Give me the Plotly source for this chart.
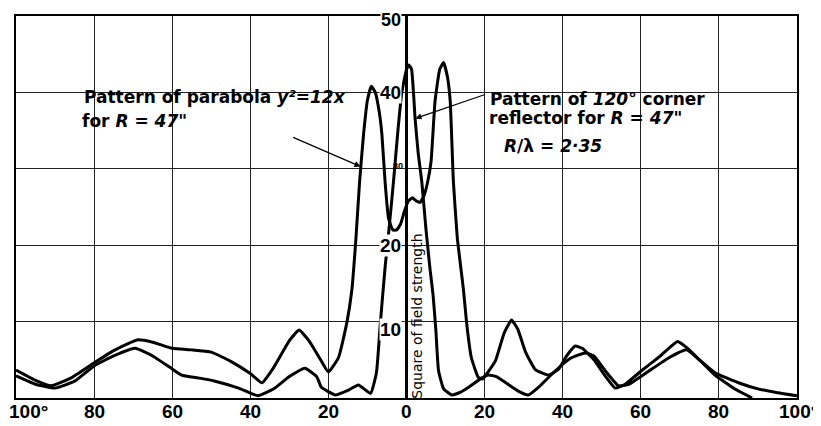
import plotly.graph_objects as go

# Angle from axis [deg] and square of field strength
par_x = [-100, -95, -91, -86, -80, -75, -69, -65, -60, -55, -50, -45, -40, -37, -34, -30,
         -27.5, -25, -22, -20, -17.4, -15.3, -14, -13, -12, -11, -10, -9, -8, -7, -6.3,
         -5.5, -4.6, -3.5, -2.5, -1.5, -0.5, 0.5, 1.5, 2.5, 3.5, 4.5, 5.5, 6.3, 7.3, 8.5,
         9.5, 10.5, 11.2, 12, 13, 14.6, 15.4, 16.6, 18.4, 19.5, 21, 22.8, 25, 26.9, 28.5,
         30.5, 33, 36.4, 39, 41, 43.2, 45, 48, 51, 53.4, 56, 60, 65, 69.4, 72, 76, 79, 84, 88.5]
par_y = [3.65, 2.3, 1.6, 2.6, 4.6, 6.2, 7.6, 7.3, 6.5, 6.3, 6.0, 4.8, 3.2, 2.0, 4.0, 7.5,
         8.9, 7.5, 5.0, 3.4, 5.3, 9.8, 14.1, 20.5, 28.4, 34.5, 39.0, 40.8, 40.0, 37.5, 34.5,
         28.4, 23.5, 22.0, 22.0, 22.8, 24.5, 25.8, 26.2, 25.8, 25.6, 26.5, 28.5, 31.0, 38.8, 43.0,
         43.9, 42.0, 38.8, 28.4, 21.0, 14.1, 9.8, 5.3, 2.7, 2.5, 3.5, 4.9, 8.5, 10.2, 9.0,
         6.0, 3.7, 3.0, 3.8, 5.5, 6.8, 6.5, 5.0, 2.8, 1.3, 1.8, 3.5, 5.5, 7.4, 6.5, 4.5, 3.0, 1.2, 0.0]

cor_x = [-100, -95, -90, -85, -80, -75, -69.5, -65, -60, -57.6, -53, -49, -43, -38, -34, -30,
         -26, -23, -21.8, -18.2, -15, -12.3, -9.2, -7.7, -6.7, -5.5, -4.5, -3.3, -2.2, -1.2,
         0, 0.6, 1.3, 2.2, 3, 3.9, 5, 6, 6.8, 7.5, 8.2, 9.5, 11.6, 14, 15.9, 19.2, 21, 23,
         26, 29, 31.2, 34, 38, 42, 45.8, 48, 51, 54.3, 57, 62, 67, 71.7, 75, 79, 85, 90, 95, 100]
cor_y = [2.9, 1.8, 1.3, 2.2, 4.2, 5.5, 6.5, 5.5, 3.8, 3.0, 2.6, 2.2, 1.3, 0.3, 1.2, 2.8,
         3.9, 2.8, 1.4, 0.4, 1.0, 1.7, 0.6, 3.3, 9.8, 17.0, 22.0, 28.5, 35.0, 40.0,
         43.0, 43.6, 43.0, 36.6, 32.0, 28.4, 22.0, 17.0, 13.5, 9.0, 3.6, 1.2, 0.4, 0.8, 1.4, 2.6, 3.0, 2.8,
         1.8, 0.8, 0.4, 1.5, 3.5, 5.2, 5.9, 5.5, 3.5, 1.6, 1.8, 3.5, 5.2, 6.3, 5.0, 3.3, 2.0, 1.2, 0.7, 0.3]

x_ticks = [-100, -80, -60, -40, -20, 0, 20, 40, 60, 80, 100]
x_labels = ["100°", "80", "60", "40", "20", "0", "20", "40", "60", "80", "100°"]
y_ticks = [10, 20, 30, 40, 50]
y_labels = ["10", "20", "30", "40", "50"]

TICKFONT = "Liberation Sans, Arial, sans-serif"
TXTFONT = "DejaVu Sans, sans-serif"

fig = go.Figure()
for xs, ys in [(par_x, par_y), (cor_x, cor_y)]:
    fig.add_trace(go.Scatter(x=xs, y=ys, mode="lines",
                             line=dict(color="black", width=3, shape="spline", smoothing=0.4),
                             hoverinfo="skip", showlegend=False))

axis_common = dict(showgrid=True, gridcolor="#222", gridwidth=1, showline=True,
                   linecolor="black", linewidth=1.5, mirror=True, ticks="",
                   showticklabels=False)
fig.update_xaxes(range=[-100, 100], tickvals=x_ticks,
                 zeroline=True, zerolinecolor="black", zerolinewidth=2.5, **axis_common)
fig.update_yaxes(range=[0, 50], tickvals=y_ticks, zeroline=False, **axis_common)

# x labels under the frame; the end labels are kept inside the figure
for i, (v, lab) in enumerate(zip(x_ticks, x_labels)):
    if i == 0:
        anchor, shift = "left", -8
    elif i == len(x_ticks) - 1:
        anchor, shift = "right", 22
    else:
        anchor, shift = "center", 0
    fig.add_annotation(x=v, y=0, xref="x", yref="y", text="<b>%s</b>" % lab, showarrow=False,
                       xanchor=anchor, yanchor="top", yshift=-2, xshift=shift, borderpad=0,
                       font=dict(family=TICKFONT, size=19, color="black"))

# y tick labels sit on the central axis
for v, lab in zip(y_ticks, y_labels):
    small = v == 30
    if v == 10:
        ys = -8
    elif v == 50:
        ys = -4
    elif small:
        ys = 3
    else:
        ys = 0
    fig.add_annotation(x=0, y=v, xref="x", yref="y", text="<b>%s</b>" % lab, showarrow=False,
                       xanchor="right", yanchor="middle", borderpad=0,
                       xshift=-3 if small else -5, yshift=ys,
                       bgcolor=None if small else "white",
                       font=dict(family=TICKFONT, size=9 if small else (18 if v == 50 else 19),
                                 color="black"))

fig.add_annotation(x=0, y=10.7, xref="x", yref="y", text="Square of field strength",
                   showarrow=False, textangle=-90, xanchor="left", xshift=1,
                   font=dict(family=TXTFONT, size=14, color="black"))

txt = dict(family=TXTFONT, size=17, color="black")
fig.add_annotation(x=-83, y=39.4, xref="x", yref="y", xanchor="left", showarrow=False,
                   text="<b>Pattern of parabola <i>y²=12x</i></b>", font=txt)
fig.add_annotation(x=-83.5, y=36.2, xref="x", yref="y", xanchor="left", showarrow=False,
                   text="<b>for <i>R</i> = <i>47\"</i></b>", font=txt)
fig.add_annotation(x=20.8, y=39.1, xref="x", yref="y", xanchor="left", showarrow=False,
                   text="<b>Pattern of <i>120°</i> corner</b>", font=txt)
fig.add_annotation(x=20.5, y=36.6, xref="x", yref="y", xanchor="left", showarrow=False,
                   text="<b>reflector for <i>R</i> = <i>47\"</i></b>", font=txt)
fig.add_annotation(x=24.5, y=33.0, xref="x", yref="y", xanchor="left", showarrow=False,
                   text="<b><i>R</i>/λ = <i>2·35</i></b>", font=txt)

# pointer arrows
fig.add_annotation(x=-11.8, y=30.3, ax=-29.4, ay=34.2, xref="x", yref="y", axref="x", ayref="y",
                   text="", showarrow=True, arrowhead=2, arrowsize=1, arrowwidth=1.2, arrowcolor="black")
fig.add_annotation(x=2.3, y=36.6, ax=20.5, ay=39.8, xref="x", yref="y", axref="x", ayref="y",
                   text="", showarrow=True, arrowhead=2, arrowsize=1, arrowwidth=1.2, arrowcolor="black")

# the page body adds an 8px margin, so the figure is 8px smaller each way
fig.update_layout(width=813, height=418, margin=dict(l=8, r=24, t=6, b=28),
                  plot_bgcolor="white", paper_bgcolor="white")
fig.write_html("out.html")
